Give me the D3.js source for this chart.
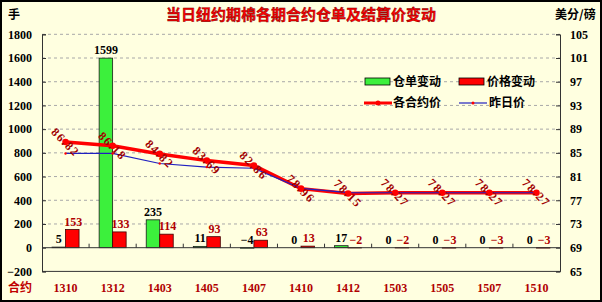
<!DOCTYPE html>
<html><head><meta charset="utf-8">
<script src="https://cdn.jsdelivr.net/npm/d3@7"></script>
<style>body{margin:0;background:#fff}svg{display:block}</style>
</head><body><svg id="c" width="602" height="302"></svg>
<script>
const categories = ["1310","1312","1403","1405","1407","1410","1412","1503","1505","1507","1510"];
const warrantChange = [5,1599,235,11,-4,0,17,0,0,0,0];
const priceChange = [153,133,114,93,63,13,-2,-2,-3,-3,-3];
const contractPrice = [86.82,86.18,84.82,83.69,82.86,78.96,78.15,78.27,78.27,78.27,78.27];
const prevPrice = [84.9,84.9,83.2,82.6,82.4,79.0,78.3,78.27,78.27,78.27,78.27];
const leftTicks = [-200,0,200,400,600,800,1000,1200,1400,1600,1800];
const rightTicks = [65,69,73,77,81,85,89,93,97,101,105];

const svg = d3.select("#c");
const W=602,H=302;
const num = "'Liberation Serif', serif";
const cjk = "'Noto Sans CJK SC', sans-serif";
svg.append("rect").attr("x",1).attr("y",1).attr("width",W-2).attr("height",H-2)
  .attr("fill","#FFFFE0").attr("stroke","#000").attr("stroke-width",2);

const x = d3.scaleBand().domain(categories).range([42,560]);
const yL = d3.scaleLinear().domain([-200,1800]).range([271.4,34.3]);
const yR = d3.scaleLinear().domain([65,105]).range([271.4,34.3]);
const bw = 13.5;

// gridlines
svg.append("g").selectAll("line").data(leftTicks.filter(t=>t>0)).join("line")
  .attr("x1",42).attr("x2",560).attr("y1",d=>yL(d)).attr("y2",d=>yL(d))
  .attr("stroke","#A8A8A8").attr("stroke-dasharray","3,3").attr("stroke-width",1);

// left axis
const gl = svg.append("g").attr("transform","translate(42,0)")
  .call(d3.axisLeft(yL).tickValues(leftTicks).tickSize(-4).tickPadding(10).tickFormat(d3.format("d")));
gl.selectAll("text").attr("font-family",num).attr("font-weight","bold").attr("font-size",12).attr("fill","#000");
gl.select(".domain").attr("stroke","#333");
gl.selectAll(".tick line").attr("stroke","#333");
// right axis
const gr = svg.append("g").attr("transform","translate(560,0)")
  .call(d3.axisRight(yR).tickValues(rightTicks).tickSize(-4).tickPadding(10).tickFormat(d3.format("d")));
gr.selectAll("text").attr("font-family",num).attr("font-weight","bold").attr("font-size",12).attr("fill","#000");
gr.select(".domain").attr("stroke","#333");
gr.selectAll(".tick line").attr("stroke","#333");
// bottom frame
svg.append("line").attr("x1",42).attr("x2",560).attr("y1",yL(-200)).attr("y2",yL(-200)).attr("stroke","#333");

// bars
const idx = d3.range(categories.length);
svg.append("g").selectAll("rect").data(idx).join("rect")
  .attr("x",i=>x(categories[i])+x.bandwidth()/2-bw)
  .attr("y",i=>yL(Math.max(0,warrantChange[i])))
  .attr("width",bw).attr("height",i=>Math.abs(yL(warrantChange[i])-yL(0)))
  .attr("fill","#3CF03C").attr("stroke","#1a1a1a").attr("stroke-width",0.8);
svg.append("g").selectAll("rect").data(idx).join("rect")
  .attr("x",i=>x(categories[i])+x.bandwidth()/2)
  .attr("y",i=>yL(Math.max(0,priceChange[i])))
  .attr("width",bw).attr("height",i=>Math.abs(yL(priceChange[i])-yL(0)))
  .attr("fill","#FF0000").attr("stroke","#400000").attr("stroke-width",0.8);

// x axis at zero
const gx = svg.append("g").attr("transform",`translate(0,${yL(0)})`);
gx.append("line").attr("x1",42).attr("x2",560).attr("stroke","#333");
gx.selectAll("line.t").data(d3.range(1,categories.length)).join("line").attr("class","t")
  .attr("x1",i=>x(categories[i])).attr("x2",i=>x(categories[i])).attr("y1",0).attr("y2",-4).attr("stroke","#333");

// bar labels
svg.append("g").selectAll("text").data(idx).join("text")
  .attr("x",i=>x(categories[i])+x.bandwidth()/2-bw/2)
  .attr("y",i=>yL(Math.max(0,warrantChange[i]))-4)
  .attr("text-anchor","middle").attr("font-family",num).attr("font-weight","bold").attr("font-size",12)
  .attr("fill","#000").text(i=>String(warrantChange[i]).replace("-","−"));
svg.append("g").selectAll("text").data(idx).join("text")
  .attr("x",i=>x(categories[i])+x.bandwidth()/2+bw/2+1)
  .attr("y",i=>yL(Math.max(0,priceChange[i]))-4)
  .attr("text-anchor","middle").attr("font-family",num).attr("font-weight","bold").attr("font-size",12)
  .attr("fill","#B00000").text(i=>String(priceChange[i]).replace("-","−"));

// lines
const cx = i=>x(categories[i])+x.bandwidth()/2;
svg.append("path").datum(idx).attr("fill","none").attr("stroke","#FF0000").attr("stroke-width",3.5)
  .attr("d",d3.line().x(cx).y(i=>yR(contractPrice[i])));
svg.append("path").datum(idx).attr("fill","none").attr("stroke","#2020C0").attr("stroke-width",1.2)
  .attr("d",d3.line().x(cx).y(i=>yR(prevPrice[i])));
svg.append("g").selectAll("circle").data(idx).join("circle")
  .attr("cx",cx).attr("cy",i=>yR(contractPrice[i])).attr("r",3.3).attr("fill","#FF0000");
svg.append("g").selectAll("circle").data(idx).join("circle")
  .attr("cx",cx).attr("cy",i=>yR(prevPrice[i])).attr("r",1.2).attr("fill","#FF0000");
// price labels rotated
svg.append("g").selectAll("text").data(idx).join("text")
  .attr("transform",i=>`translate(${cx(i)},${yR(contractPrice[i])}) rotate(45)`)
  .attr("text-anchor","middle").attr("dy","0.35em")
  .attr("font-family",num).attr("font-weight","bold").attr("font-size",12).attr("letter-spacing",1.5)
  .attr("fill","#A00000").text(i=>contractPrice[i].toFixed(2));

// legend
const lg = svg.append("g");
lg.append("rect").attr("x",365).attr("y",78).attr("width",25).attr("height",7).attr("fill","#3CF03C").attr("stroke","#000").attr("stroke-width",0.8);
lg.append("rect").attr("x",459).attr("y",78).attr("width",25).attr("height",7).attr("fill","#FF0000").attr("stroke","#000").attr("stroke-width",0.8);
lg.append("line").attr("x1",364).attr("x2",392).attr("y1",103).attr("y2",103).attr("stroke","#FF0000").attr("stroke-width",3);
lg.append("circle").attr("cx",378).attr("cy",103).attr("r",2.5).attr("fill","#FF0000");
lg.append("line").attr("x1",459).attr("x2",487).attr("y1",103).attr("y2",103).attr("stroke","#2020C0").attr("stroke-width",1.2);
lg.append("circle").attr("cx",473).attr("cy",103).attr("r",1.5).attr("fill","#FF0000");
const legTexts = [["仓单变动",393,82],["价格变动",487,82],["各合约价",393,103],["昨日价",489,103]];
lg.selectAll("text").data(legTexts).join("text").attr("x",d=>d[1]).attr("y",d=>d[2]).attr("dy","0.35em")
  .attr("font-family",cjk).attr("font-weight","bold").attr("font-size",12).attr("fill","#000").text(d=>d[0]);

// titles
svg.append("text").attr("x",301).attr("y",15).attr("dy","0.35em").attr("text-anchor","middle")
  .attr("font-family",cjk).attr("font-weight","bold").attr("font-size",15)
  .attr("fill","#FF0000").attr("stroke","#700000").attr("stroke-width",0.4).text("当日纽约期棉各期合约仓单及结算价变动");
svg.append("text").attr("x",8).attr("y",15).attr("dy","0.35em")
  .attr("font-family",cjk).attr("font-weight","bold").attr("font-size",12).attr("fill","#000").text("手");
svg.append("text").attr("x",555).attr("y",15).attr("dy","0.35em")
  .attr("font-family",cjk).attr("font-weight","bold").attr("font-size",12).attr("fill","#000").text("美分/磅");
// category labels
svg.append("text").attr("x",8).attr("y",288).attr("dy","0.35em")
  .attr("font-family",cjk).attr("font-weight","bold").attr("font-size",12).attr("fill","#C00000").text("合约");
svg.append("g").selectAll("text").data(categories).join("text")
  .attr("x",d=>x(d)+x.bandwidth()/2).attr("y",288).attr("dy","0.35em").attr("text-anchor","middle")
  .attr("font-family",num).attr("font-weight","bold").attr("font-size",12).attr("fill","#B00000").text(d=>d);
</script></body></html>
